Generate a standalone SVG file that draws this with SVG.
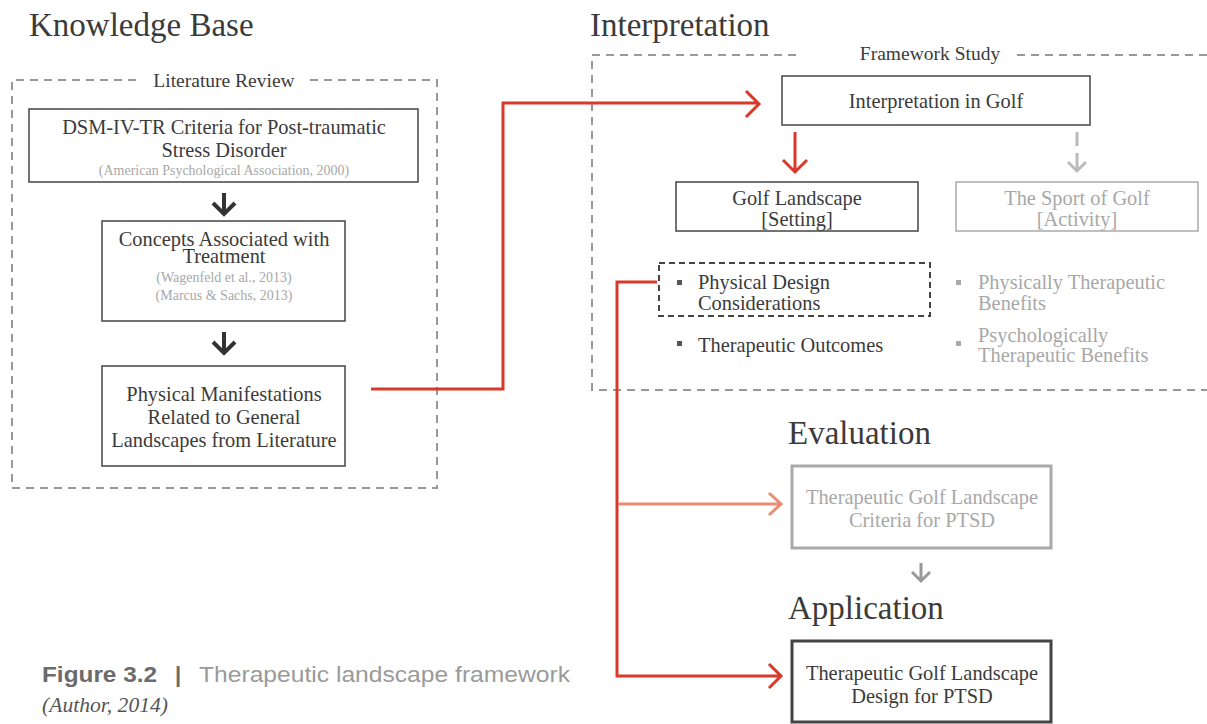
<svg xmlns="http://www.w3.org/2000/svg" width="1207" height="724" viewBox="0 0 1207 724">
<style>
.t{font-family:"Liberation Serif",serif;fill:#3b3b3b;font-size:20.4px}
.tg{font-family:"Liberation Serif",serif;fill:#a8a8a8;font-size:20.4px}
.cite{font-family:"Liberation Serif",serif;fill:#a8a8a8;font-size:14px}
.h{font-family:"Liberation Serif",serif;fill:#3b3b3b;font-size:33px}
.lab{font-family:"Liberation Serif",serif;fill:#3b3b3b;font-size:19.5px}
.box{fill:#fff;stroke:#444;stroke-width:1.5}
.gbox{fill:#fff;stroke:#aaa;stroke-width:1.5}
.dash{fill:none;stroke:#999;stroke-width:2;stroke-dasharray:8 6}
.red{fill:none;stroke:#d8392b;stroke-width:3}
.sal{fill:none;stroke:#e88c74;stroke-width:3}
.dk{fill:none;stroke:#333;stroke-width:4}
</style>
<rect width="1207" height="724" fill="#fff"/>
<text class="h" x="29" y="36">Knowledge Base</text>
<text class="h" x="590" y="36">Interpretation</text>
<text class="h" x="788" y="444">Evaluation</text>
<text class="h" x="788" y="619">Application</text>

<g id="literature-review">
<path class="dash" d="M136 80 H12 V488 H437 V80 H310"/>
<text class="lab" x="224" y="87" text-anchor="middle">Literature Review</text>
</g>
<g id="framework-study">
<path class="dash" d="M796 55 H592 V390 H1207 M1207 55 H1014"/>
<text class="lab" x="930" y="60" text-anchor="middle">Framework Study</text>
</g>

<g id="dsm">
<rect class="box" x="29" y="109" width="389" height="73"/>
<text class="t" x="224" y="134" text-anchor="middle">DSM-IV-TR Criteria for Post-traumatic</text>
<text class="t" x="224" y="157" text-anchor="middle">Stress Disorder</text>
<text class="cite" x="224" y="175" text-anchor="middle">(American Psychological Association, 2000)</text>
</g>
<g id="concepts">
<rect class="box" x="102" y="221" width="243" height="100"/>
<text class="t" x="224" y="246" text-anchor="middle">Concepts Associated with</text>
<text class="t" x="224" y="263" text-anchor="middle">Treatment</text>
<text class="cite" x="224" y="282" text-anchor="middle">(Wagenfeld et al., 2013)</text>
<text class="cite" x="224" y="300" text-anchor="middle">(Marcus &amp; Sachs, 2013)</text>
</g>
<g id="manifestations">
<rect class="box" x="102" y="366" width="243" height="100"/>
<text class="t" x="224" y="401" text-anchor="middle">Physical Manifestations</text>
<text class="t" x="224" y="424" text-anchor="middle">Related to General</text>
<text class="t" x="224" y="447" text-anchor="middle">Landscapes from Literature</text>
</g>
<g id="interp-golf">
<rect class="box" x="782" y="76" width="308" height="49"/>
<text class="t" x="936" y="108" text-anchor="middle">Interpretation in Golf</text>
</g>
<g id="golf-landscape">
<rect class="box" x="676" y="182" width="242" height="49"/>
<text class="t" x="797" y="205" text-anchor="middle">Golf Landscape</text>
<text class="t" x="797" y="226" text-anchor="middle">[Setting]</text>
</g>
<g id="sport-golf">
<rect class="gbox" x="956" y="182" width="242" height="49"/>
<text class="tg" x="1077" y="205" text-anchor="middle">The Sport of Golf</text>
<text class="tg" x="1077" y="226" text-anchor="middle">[Activity]</text>
</g>
<g id="physical-design">
<rect x="659" y="263" width="271" height="53" fill="none" stroke="#444" stroke-width="2" stroke-dasharray="6 4"/>
<rect x="677" y="280" width="5" height="5" fill="#555"/>
<text class="t" x="698" y="289">Physical Design</text>
<text class="t" x="698" y="310">Considerations</text>
</g>
<g id="outcomes">
<rect x="677" y="341" width="5" height="5" fill="#555"/>
<text class="t" x="698" y="352">Therapeutic Outcomes</text>
</g>
<g id="phys-benefits">
<rect x="956" y="280" width="5" height="5" fill="#aaa"/>
<text class="tg" x="978" y="289">Physically Therapeutic</text>
<text class="tg" x="978" y="310">Benefits</text>
</g>
<g id="psych-benefits">
<rect x="956" y="341" width="5" height="5" fill="#aaa"/>
<text class="tg" x="978" y="342">Psychologically</text>
<text class="tg" x="978" y="362">Therapeutic Benefits</text>
</g>
<g id="criteria">
<rect x="792" y="466" width="259" height="82" fill="#fff" stroke="#aaa" stroke-width="3"/>
<text class="tg" x="922" y="504" text-anchor="middle">Therapeutic Golf Landscape</text>
<text class="tg" x="922" y="527" text-anchor="middle">Criteria for PTSD</text>
</g>
<g id="design">
<rect x="792" y="641" width="259" height="81" fill="#fff" stroke="#444" stroke-width="3"/>
<text class="t" x="922" y="680" text-anchor="middle">Therapeutic Golf Landscape</text>
<text class="t" x="922" y="703" text-anchor="middle">Design for PTSD</text>
</g>

<g id="connectors">
<path class="dk" d="M224 193 V213 M213 203 L224 214 L235 203"/>
<path class="dk" d="M224 332 V352 M213 342 L224 353 L235 342"/>
<path class="red" d="M371 389 H503 V103 H758 M746 91 L759 104 L746 117"/>
<path class="red" d="M795 132 V172 M783 160 L795 172 L807 160"/>
<path d="M1077 132 V146" fill="none" stroke="#bbb" stroke-width="3"/>
<path d="M1077 153 V171 M1068 162 L1077 171 L1086 162" fill="none" stroke="#bbb" stroke-width="3"/>
<path class="red" d="M657 282 H617 V676 H781 M769 664 L781 676 L769 688"/>
<path class="sal" d="M618 504 H781 M769 493 L781 504 L769 515"/>
<path d="M921 563 V581 M912 572 L921 581 L930 572" fill="none" stroke="#999" stroke-width="3"/>
</g>

<g id="caption">
<text x="42" y="682" font-family="'Liberation Sans',sans-serif" font-size="22" font-weight="bold" fill="#6b6b6b" textLength="115" lengthAdjust="spacingAndGlyphs">Figure 3.2</text>
<text x="175" y="682" font-family="'Liberation Sans',sans-serif" font-size="22" font-weight="bold" fill="#6b6b6b">|</text>
<text x="199" y="682" font-family="'Liberation Sans',sans-serif" font-size="22" fill="#9a9a9a" textLength="371" lengthAdjust="spacingAndGlyphs">Therapeutic landscape framework</text>
<text x="42" y="712" font-family="'Liberation Serif',serif" font-style="italic" font-size="21" fill="#555" textLength="126" lengthAdjust="spacingAndGlyphs">(Author, 2014)</text>
</g>
</svg>
